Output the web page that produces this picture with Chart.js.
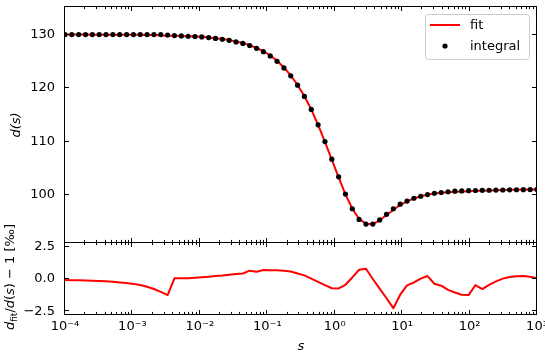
<!DOCTYPE html>
<html><head><meta charset="utf-8">
<script src="https://cdn.jsdelivr.net/npm/chart.js@4/dist/chart.umd.min.js"></script>
<style>
html,body{margin:0;padding:0;background:#fff;}
#wrap{position:relative;width:545px;height:363px;overflow:hidden;}
#wrap canvas{position:absolute;left:0;top:0;}
</style></head><body>
<div id="wrap"><canvas id="bot" width="545" height="363"></canvas><canvas id="top" width="545" height="363"></canvas></div>
<script>
// ---- data ----
const sValues = [1.000e-4,1.263e-4,1.595e-4,2.015e-4,2.545e-4,3.215e-4,4.061e-4,5.130e-4,6.480e-4,8.185e-4,
 1.034e-3,1.306e-3,1.650e-3,2.084e-3,2.633e-3,3.325e-3,4.200e-3,5.306e-3,6.702e-3,8.465e-3,
 1.069e-2,1.351e-2,1.706e-2,2.154e-2,2.721e-2,3.437e-2,4.342e-2,5.484e-2,6.927e-2,8.750e-2,
 0.1105,0.1396,0.1764,0.2228,0.2814,0.3554,0.4490,0.5671,0.7163,0.9048,
 1.143,1.443,1.823,2.303,2.909,3.674,4.642,5.863,7.406,9.355,
 11.82,14.93,18.86,23.82,30.08,38.00,48.00,60.63,76.58,96.72,
 122.2,154.3,194.9,246.2,311.0,392.8,496.2,626.8,791.7,1000];
const integralValues = [130.00,130.00,130.00,130.00,130.00,130.00,130.00,130.00,130.00,130.00,
 130.00,130.00,130.00,130.00,130.00,129.90,129.80,129.74,129.68,129.62,
 129.55,129.44,129.27,129.12,128.92,128.63,128.35,127.95,127.42,126.80,
 126.00,125.00,123.77,122.28,120.54,118.43,116.00,113.13,110.00,106.70,
 103.40,100.18,97.44,95.45,94.58,94.58,95.35,96.40,97.44,98.30,
 98.88,99.40,99.78,100.10,100.34,100.48,100.60,100.72,100.77,100.82,
 100.85,100.88,100.90,100.93,100.95,100.97,100.99,101.00,101.02,101.05];
const fitValues = [129.99,129.99,129.99,129.99,129.98,129.98,129.98,129.97,129.96,129.96,
 129.95,129.94,129.92,129.90,129.87,129.74,129.81,129.75,129.69,129.63,
 129.57,129.47,129.30,129.16,128.97,128.68,128.41,128.03,127.49,126.89,
 126.09,125.09,123.85,122.35,120.59,118.46,116.00,113.10,109.95,106.62,
 103.32,100.13,97.45,95.52,94.66,94.58,95.28,96.26,97.22,98.18,
 98.83,99.37,99.78,100.12,100.30,100.43,100.52,100.61,100.65,100.69,
 100.80,100.80,100.85,100.91,100.95,100.99,101.01,101.02,101.04,101.06];
const residualPermille = [-0.08,-0.09,-0.10,-0.11,-0.13,-0.15,-0.18,-0.22,-0.27,-0.32,
 -0.38,-0.47,-0.60,-0.78,-1.00,-1.25,0.05,0.05,0.05,0.09,
 0.13,0.17,0.24,0.27,0.33,0.38,0.43,0.65,0.57,0.70,
 0.69,0.68,0.65,0.58,0.43,0.28,0.03,-0.22,-0.47,-0.72,
 -0.73,-0.45,0.12,0.72,0.80,0.00,-0.75,-1.50,-2.27,-1.22,
 -0.50,-0.27,0.03,0.23,-0.37,-0.52,-0.85,-1.05,-1.23,-1.25,
 -0.47,-0.78,-0.45,-0.18,0.03,0.16,0.22,0.23,0.18,0.05];
const seriesNames = ['fit','integral'];
const xMajorTicks = [1e-4,1e-3,1e-2,1e-1,1,10,100,1000];
const xTickLabels = ['10\u207B\u2074','10\u207B\u00B3','10\u207B\u00B2','10\u207B\u00B9','10\u2070','10\u00B9','10\u00B2','10\u00B3'];
const topYTicks = [100,110,120,130];
const topYTickLabels = ['100','110','120','130'];
const botYTicks = [-2.5,0,2.5];
const botYTickLabels = ['\u22122.5','0.0','2.5'];
const xTitle = 's';
const topYTitle = 'd(s)';

// ---- style ----
const FONT = "'DejaVu Sans', sans-serif";
Chart.defaults.font.family = FONT;
Chart.defaults.font.size = 13;
Chart.defaults.color = '#000';
const MAJOR = 4.5, MINOR = 2.6;
const xMinorTicks = [];
for (let i = 0; i < xMajorTicks.length - 1; i++) for (let m = 2; m <= 9; m++) xMinorTicks.push(m * xMajorTicks[i]);
const crisp = v => Math.round(v) - 0.5;

function framePlugin(yTicks) {
  return { id: 'frame', afterDatasetsDraw(chart) {
    const {ctx, chartArea: a} = chart; const xs = chart.scales.x, ys = chart.scales.y;
    const L = crisp(a.left), R = crisp(a.right), T = crisp(a.top), B = crisp(a.bottom);
    ctx.save(); ctx.strokeStyle = '#000'; ctx.lineWidth = 1; ctx.beginPath();
    const vx = (v, len) => { const p = crisp(xs.getPixelForValue(v)); ctx.moveTo(p, T); ctx.lineTo(p, T + len); ctx.moveTo(p, B); ctx.lineTo(p, B - len); };
    xMajorTicks.forEach(v => vx(v, MAJOR)); xMinorTicks.forEach(v => vx(v, MINOR));
    yTicks.forEach(v => { const p = crisp(ys.getPixelForValue(v)); ctx.moveTo(L, p); ctx.lineTo(L + MAJOR, p); ctx.moveTo(R, p); ctx.lineTo(R - MAJOR, p); });
    ctx.stroke();
    ctx.strokeRect(L, T, R - L, B - T);
    ctx.restore();
  }};
}

const legendPlugin = { id: 'mplLegend', afterDraw(chart) {
  const ctx = chart.ctx; const ds = chart.data.datasets;
  ctx.save();
  const x0 = 425.5, y0 = 14.5, w = 104, h = 45, r = 3;
  ctx.beginPath(); ctx.roundRect(x0, y0, w, h, r);
  ctx.fillStyle = 'rgba(255,255,255,0.8)'; ctx.fill();
  ctx.strokeStyle = '#cccccc'; ctx.lineWidth = 1; ctx.stroke();
  ctx.strokeStyle = ds[0].borderColor; ctx.lineWidth = 2;
  ctx.beginPath(); ctx.moveTo(430, 25); ctx.lineTo(460, 25); ctx.stroke();
  ctx.fillStyle = ds[1].pointBackgroundColor;
  ctx.beginPath(); ctx.arc(445, 46, 2.6, 0, Math.PI * 2); ctx.fill();
  ctx.fillStyle = '#000'; ctx.font = "13px " + FONT; ctx.textBaseline = 'alphabetic'; ctx.textAlign = 'left';
  ctx.fillText(ds[0].label, 470, 28.5);
  ctx.fillText(ds[1].label, 470, 49.5);
  ctx.restore();
}};

const residualTitlePlugin = { id: 'resTitle', afterDraw(chart) {
  const ctx = chart.ctx;
  const N = "13px " + FONT, I = "italic 13px " + FONT, S = "9px " + FONT;
  const parts = [['d', I, 0], ['fit', S, 3], ['/', N, 0], ['d', I, 0], ['(', N, 0], ['s', I, 0], [')', N, 0], [' \u2212 1 [\u2030]', N, 0]];
  let w = 0; parts.forEach(p => { ctx.font = p[1]; p.push(ctx.measureText(p[0]).width); w += p[3]; });
  ctx.save(); ctx.translate(13.5, 277); ctx.rotate(-Math.PI / 2);
  ctx.fillStyle = '#000'; ctx.textBaseline = 'alphabetic'; ctx.textAlign = 'left';
  let x = -w / 2;
  parts.forEach(p => { ctx.font = p[1]; ctx.fillText(p[0], x, p[2]); x += p[3]; });
  ctx.restore();
}};

const pts = vals => sValues.map((s, i) => ({x: s, y: vals[i]}));

const yFit = (tickVals, labels) => ({
  afterBuildTicks: s => { s.ticks = tickVals.map(v => ({value: v})); },
  afterFit: s => { s.width = 65; s.paddingTop = 0; s.paddingBottom = 0; },
  ticks: { padding: 10, callback: (v, i) => labels[i] },
  grid: { display: false, drawTicks: false },
  border: { display: false }
});

new Chart(document.getElementById('top'), {
  type: 'scatter',
  data: { datasets: [
    { label: seriesNames[0], data: pts(fitValues), showLine: true, borderColor: '#ff0000', borderWidth: 2, pointRadius: 0, borderJoinStyle: 'round', order: 1 },
    { label: seriesNames[1], data: pts(integralValues), showLine: false, pointRadius: 2.6, pointBackgroundColor: '#000000', pointBorderWidth: 0, borderColor: '#000000', order: 0 }
  ]},
  options: {
    responsive: false, animation: false, devicePixelRatio: 1, events: [],
    layout: { padding: { left: 0, right: 8, top: 7, bottom: 120 } },
    plugins: { legend: { display: false }, tooltip: { enabled: false } },
    scales: {
      x: { type: 'logarithmic', min: 1e-4, max: 1e3, display: false },
      y: Object.assign({ type: 'linear', min: 91.04, max: 135.15,
        title: { display: true, text: topYTitle, font: { style: 'italic', size: 13 }, padding: { top: 9, bottom: 0 } } },
        yFit(topYTicks, topYTickLabels))
    }
  },
  plugins: [framePlugin(topYTicks), legendPlugin]
});

new Chart(document.getElementById('bot'), {
  type: 'scatter',
  data: { datasets: [
    { label: 'd_fit/d(s) \u2212 1 [\u2030]', data: pts(residualPermille), showLine: true, borderColor: '#ff0000', borderWidth: 2, pointRadius: 0, borderJoinStyle: 'round' }
  ]},
  options: {
    responsive: false, animation: false, devicePixelRatio: 1, events: [],
    layout: { padding: { left: 0, right: 8, top: 243, bottom: 0 } },
    plugins: { legend: { display: false }, tooltip: { enabled: false } },
    scales: {
      x: { type: 'logarithmic', min: 1e-4, max: 1e3,
        afterBuildTicks: s => { s.ticks = xMajorTicks.map(v => ({value: v})); },
        afterFit: s => { s.height = 48; s.paddingLeft = 0; s.paddingRight = 0; },
        ticks: { autoSkip: false, maxRotation: 0, minRotation: 0, padding: 4, callback: (v, i) => xTickLabels[i] },
        grid: { display: false, drawTicks: false }, border: { display: false },
        title: { display: true, text: xTitle, font: { style: 'italic', size: 13 }, padding: { top: 0, bottom: 9 } }
      },
      y: Object.assign({ type: 'linear', min: -2.8, max: 2.8 }, yFit(botYTicks, botYTickLabels))
    }
  },
  plugins: [framePlugin(botYTicks), residualTitlePlugin]
});
</script>
</body></html>
